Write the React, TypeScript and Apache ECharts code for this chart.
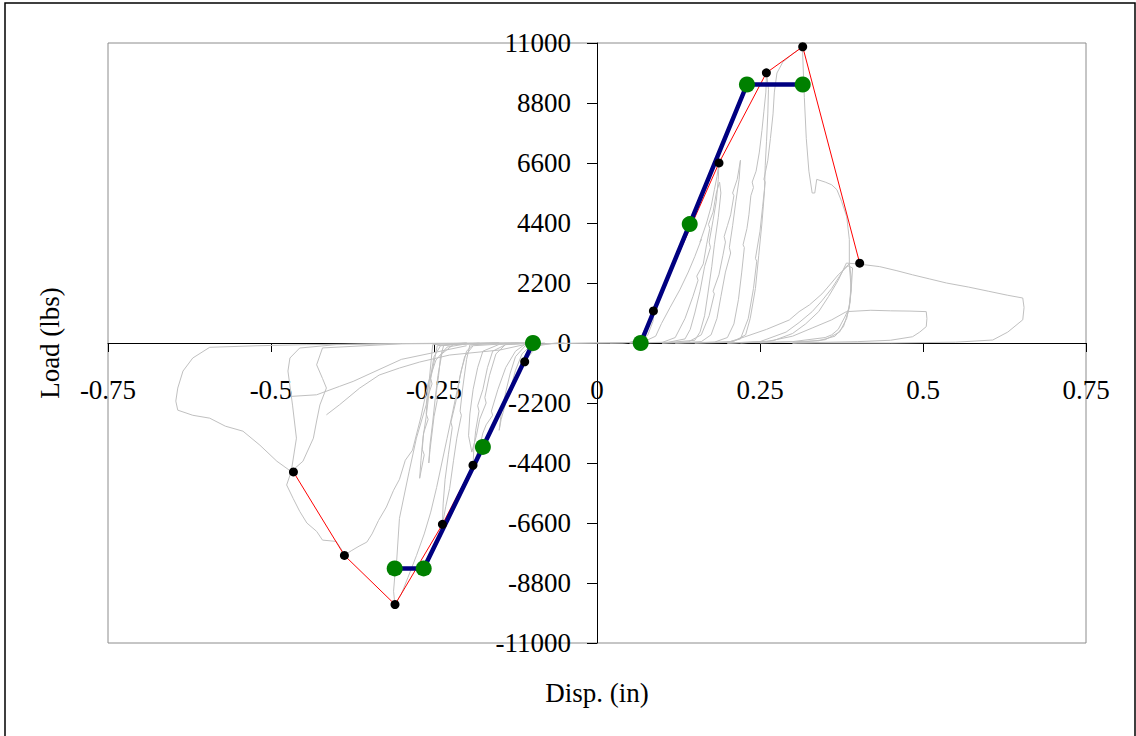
import React, { useEffect, useRef } from "react";
import * as echarts from "echarts";

// ---------- data ----------
const xMin = -0.75;
const xMax = 0.75;
const xInterval = 0.25;
const yMin = -11000;
const yMax = 11000;
const yInterval = 2200;

const xTitle = "Disp. (in)";
const yTitle = "Load (lbs)";

// envelope (peak) points
const envelopePosX = [0.0865, 0.1871, 0.2598, 0.3155, 0.4029];
const envelopePosY = [1176, 6602, 9908, 10863, 2928];
const envelopeNegX = [-0.1109, -0.1902, -0.2371, -0.3098, -0.3874, -0.4656];
const envelopeNegY = [-687, -4482, -6650, -9589, -7788, -4728];

// bilinear (EEEP) curve points
const bilinearPosX = [0.067, 0.1422, 0.23, 0.3155];
const bilinearPosY = [0, 4360, 9478, 9478];
const bilinearNegX = [-0.0982, -0.175, -0.2658, -0.3103];
const bilinearNegY = [0, -3810, -8266, -8266];

// hysteresis loops (disp, load)
const loopP1 = [[0, 0], [0.05, 20], [0.066, 150], [0.075, 600], [0.087, 1180], [0.086, 800], [0.078, 300], [0.068, 60], [0.04, 0], [0, 0]];
const loopP2 = [[0.02, 0], [0.07, 30], [0.09, 250], [0.099, 720], [0.112, 1300], [0.127, 1950], [0.14, 2600], [0.15, 3170], [0.16, 3800], [0.158, 3700], [0.168, 4400], [0.175, 5000], [0.18, 5620], [0.184, 6100], [0.187, 6600], [0.186, 6000], [0.183, 5200], [0.178, 4500], [0.172, 3700], [0.174, 3500], [0.165, 2800], [0.158, 1900], [0.15, 1100], [0.143, 500], [0.135, 150], [0.11, 30], [0.05, 0]];
const loopP3 = [[0.05, 0], [0.1, 20], [0.12, 200], [0.135, 900], [0.147, 1700], [0.155, 2300], [0.153, 2450], [0.163, 2900], [0.168, 3600], [0.173, 4200], [0.171, 4350], [0.178, 4800], [0.183, 5500], [0.188, 5900], [0.19, 5500], [0.186, 4600], [0.18, 3600], [0.176, 2800], [0.17, 1800], [0.165, 1000], [0.158, 400], [0.15, 100], [0.1, 0]];
const loopP4 = [[0.1, 0], [0.14, 40], [0.16, 300], [0.172, 1000], [0.18, 1800], [0.178, 1900], [0.187, 2500], [0.193, 3200], [0.197, 3700], [0.195, 3900], [0.2, 4300], [0.205, 4700], [0.21, 5400], [0.208, 5500], [0.215, 6000], [0.22, 6700], [0.218, 6000], [0.213, 5200], [0.208, 4300], [0.203, 3500], [0.205, 3300], [0.197, 2600], [0.19, 1700], [0.184, 900], [0.175, 300], [0.16, 50], [0.12, 0]];
const loopP5 = [[0.12, 0], [0.18, 30], [0.2, 200], [0.21, 700], [0.217, 1600], [0.222, 2600], [0.226, 3500], [0.224, 3600], [0.23, 4200], [0.233, 4700], [0.236, 5400], [0.24, 5700], [0.238, 5900], [0.244, 6300], [0.249, 7000], [0.253, 7800], [0.256, 8500], [0.259, 9200], [0.26, 9900], [0.263, 9300], [0.262, 8400], [0.26, 7400], [0.258, 6500], [0.257, 5600], [0.253, 4400], [0.248, 3200], [0.243, 2000], [0.235, 900], [0.228, 300], [0.21, 60], [0.15, 0]];
const loopP6 = [[0.15, 0], [0.2, 20], [0.22, 150], [0.232, 900], [0.24, 2000], [0.245, 3000], [0.243, 3100], [0.25, 4100], [0.254, 5000], [0.258, 5900], [0.256, 6000], [0.262, 6700], [0.266, 7500], [0.27, 8400], [0.272, 9200], [0.276, 9900], [0.285, 10300], [0.3, 10600], [0.315, 10860], [0.318, 9000], [0.321, 7500], [0.325, 6300], [0.33, 5500], [0.334, 5500], [0.337, 6000], [0.35, 5900], [0.36, 5800], [0.368, 5620], [0.375, 5200], [0.383, 4630], [0.387, 3800], [0.387, 2870], [0.39, 1950], [0.387, 1300], [0.38, 950], [0.37, 500], [0.36, 300], [0.35, 200], [0.3, 50], [0.2, 0]];
const loopP7 = [[0.1, 0], [0.2, 20], [0.226, 220], [0.26, 500], [0.295, 845], [0.31, 1150], [0.326, 1400], [0.345, 1800], [0.357, 2130], [0.37, 2500], [0.385, 2830], [0.392, 2750], [0.39, 2000], [0.386, 1200], [0.378, 600], [0.365, 250], [0.34, 80], [0.25, 0]];
const loopP8 = [[0.2, 0], [0.25, 50], [0.29, 400], [0.31, 750], [0.33, 1150], [0.345, 1550], [0.36, 2000], [0.372, 2450], [0.38, 2750], [0.387, 2900], [0.39, 2400], [0.388, 1500], [0.383, 900], [0.372, 400], [0.35, 120], [0.3, 0]];
const loopP9 = [[0.22, 0], [0.27, 80], [0.3, 350], [0.32, 700], [0.34, 1150], [0.355, 1700], [0.37, 2300], [0.3825, 2930], [0.4, 2900], [0.4336, 2800], [0.46, 2650], [0.484, 2500], [0.51, 2350], [0.536, 2200], [0.57, 2050], [0.6, 1900], [0.63, 1750], [0.653, 1650], [0.655, 1300], [0.653, 850], [0.63, 400], [0.607, 110], [0.55, 30], [0.45, 0], [0.3, 0]];
const loopP10 = [[0.2, 0], [0.26, 50], [0.3, 250], [0.33, 550], [0.36, 850], [0.3825, 1150], [0.42, 1200], [0.45, 1180], [0.48, 1170], [0.505, 1150], [0.506, 900], [0.505, 600], [0.495, 400], [0.484, 230], [0.45, 100], [0.4, 50], [0.3, 0]];

const loopN1 = [[0, 0], [-0.07, -20], [-0.09, -100], [-0.1, -350], [-0.111, -690], [-0.108, -400], [-0.1, -150], [-0.08, -30], [0, 0]];
const loopN2 = [[-0.05, 0], [-0.1, -50], [-0.115, -400], [-0.125, -1000], [-0.132, -1600], [-0.13, -1700], [-0.14, -2200], [-0.147, -2800], [-0.15, -3200], [-0.147, -2600], [-0.14, -1800], [-0.133, -1100], [-0.125, -500], [-0.11, -100], [-0.06, 0]];
const loopN3 = [[-0.08, 0], [-0.11, -40], [-0.125, -300], [-0.14, -900], [-0.152, -1700], [-0.162, -2500], [-0.16, -2650], [-0.17, -3000], [-0.175, -3300], [-0.18, -3800], [-0.186, -4200], [-0.19, -4480], [-0.189, -3900], [-0.186, -3200], [-0.181, -2500], [-0.183, -2300], [-0.175, -1700], [-0.168, -900], [-0.16, -300], [-0.14, -60], [-0.09, 0]];
const loopN4 = [[-0.1, 0], [-0.14, -50], [-0.155, -400], [-0.165, -1200], [-0.172, -2000], [-0.17, -2200], [-0.18, -2800], [-0.185, -3400], [-0.192, -4000], [-0.197, -3400], [-0.195, -2600], [-0.19, -1700], [-0.183, -900], [-0.175, -300], [-0.15, -50], [-0.1, 0]];
const loopN5 = [[-0.1, 0], [-0.17, -30], [-0.195, -70], [-0.2, -600], [-0.206, -1650], [-0.21, -2500], [-0.208, -2650], [-0.215, -3490], [-0.22, -4300], [-0.226, -5330], [-0.232, -6000], [-0.237, -6650], [-0.236, -5900], [-0.233, -5000], [-0.228, -4100], [-0.222, -3100], [-0.224, -2900], [-0.216, -2100], [-0.21, -1200], [-0.203, -500], [-0.19, -100], [-0.12, 0]];
const loopN6 = [[-0.15, 0], [-0.22, -40], [-0.245, -100], [-0.25, -700], [-0.255, -1300], [-0.253, -1500], [-0.26, -2000], [-0.262, -2600], [-0.259, -2800], [-0.266, -3300], [-0.268, -3900], [-0.265, -4100], [-0.272, -4960], [-0.27, -4300], [-0.267, -3500], [-0.262, -2700], [-0.258, -1900], [-0.255, -1200], [-0.25, -500], [-0.24, -100], [-0.18, 0]];
const loopN7 = [[-0.2, 0], [-0.235, -80], [-0.24, -500], [-0.243, -1200], [-0.247, -1900], [-0.245, -2100], [-0.25, -2700], [-0.253, -3300], [-0.256, -3900], [-0.258, -4400], [-0.256, -3700], [-0.252, -2900], [-0.248, -2000], [-0.244, -1200], [-0.238, -400], [-0.22, -50], [-0.15, 0]];
const loopN8 = [[-0.12, 0], [-0.19, -50], [-0.2, -300], [-0.208, -1000], [-0.215, -1800], [-0.222, -2600], [-0.23, -3500], [-0.238, -4400], [-0.246, -5300], [-0.255, -6200], [-0.265, -7000], [-0.277, -7800], [-0.29, -8600], [-0.3, -9200], [-0.31, -9590], [-0.312, -9100], [-0.31, -8500], [-0.308, -8266], [-0.303, -6430], [-0.295, -5500], [-0.288, -4700], [-0.277, -3490], [-0.262, -2267], [-0.257, -1300], [-0.254, -551], [-0.252, -62], [-0.2, 0]];
const loopN9 = [[-0.15, 0], [-0.2, -30], [-0.23, -150], [-0.247, -625], [-0.259, -1470], [-0.27, -2708], [-0.283, -3931], [-0.294, -4299], [-0.303, -5000], [-0.312, -5400], [-0.323, -6014], [-0.335, -6503], [-0.345, -7000], [-0.353, -7300], [-0.365, -7450], [-0.376, -7605], [-0.388, -7788], [-0.39, -7642], [-0.4, -7275], [-0.421, -7227], [-0.43, -6907], [-0.445, -6600], [-0.456, -6172], [-0.466, -5700], [-0.476, -5206], [-0.469, -4714], [-0.491, -4335], [-0.517, -3747], [-0.543, -3233], [-0.57, -3050], [-0.594, -2756], [-0.62, -2650], [-0.643, -2462], [-0.646, -2131], [-0.643, -1653], [-0.635, -1029], [-0.62, -551], [-0.594, -158], [-0.52, -100], [-0.446, -62], [-0.3, -20], [-0.1, 0]];
const loopN10 = [[-0.1, 0], [-0.3, -30], [-0.421, -180], [-0.43, -800], [-0.421, -1300], [-0.415, -1650], [-0.425, -2270], [-0.43, -2860], [-0.435, -3490], [-0.451, -4335], [-0.469, -4714], [-0.461, -3490], [-0.467, -2278], [-0.474, -1029], [-0.471, -551], [-0.456, -184], [-0.4, -60], [-0.3, -20], [-0.1, 0]];
const loopN11 = [[-0.1, 0], [-0.149, -257], [-0.226, -441], [-0.272, -698], [-0.303, -918], [-0.334, -1175], [-0.364, -1653], [-0.395, -2267], [-0.415, -2634]];
const loopN12 = [[-0.2, -100], [-0.3, -600], [-0.374, -1408], [-0.395, -1591], [-0.43, -1899], [-0.469, -1958]];

const hysteresisLoops = [loopP1, loopP2, loopP3, loopP4, loopP5, loopP6, loopP7, loopP8, loopP9, loopP10, loopN1, loopN2, loopN3, loopN4, loopN5, loopN6, loopN7, loopN8, loopN9, loopN10, loopN11, loopN12];

const zip = (xs: number[], ys: number[]) => xs.map((x, i) => [x, ys[i]]);

const FONT = '"Liberation Serif", "Times New Roman", serif';

export default function App() {
  const ref = useRef<HTMLDivElement>(null);
  useEffect(() => {
    if (!ref.current) return;
    const chart = echarts.init(ref.current, null, { renderer: "svg" });
    const graySeries = hysteresisLoops.map((loop) => ({
      type: "line",
      data: loop,
      symbol: "none",
      silent: true,
      lineStyle: { color: "#c0c0c0", width: 1 },
      z: 1,
    }));
    chart.setOption({
      animation: false,
      backgroundColor: "#ffffff",
      grid: {
        left: 108,
        top: 43,
        width: 978,
        height: 600,
        show: true,
        borderColor: "#8c8c8c",
        borderWidth: 1,
        backgroundColor: "transparent",
      },
      xAxis: {
        type: "value",
        position: "bottom",
        offset: -300,
        min: xMin,
        max: xMax,
        interval: xInterval,
        axisLine: { show: true, onZero: false, lineStyle: { color: "#000", width: 1 } },
        axisTick: { show: true, length: 9, lineStyle: { color: "#000" } },
        axisLabel: { margin: 33, fontSize: 27, fontFamily: FONT, color: "#000" },
        splitLine: { show: false },
      },
      yAxis: {
        type: "value",
        position: "left",
        offset: -489,
        min: yMin,
        max: yMax,
        interval: yInterval,
        axisLine: { show: true, onZero: false, lineStyle: { color: "#000", width: 1 } },
        axisTick: { show: true, length: 10, lineStyle: { color: "#000" } },
        axisLabel: {
          margin: 26,
          fontSize: 27,
          fontFamily: FONT,
          color: "#000",
          formatter: (v: number) => String(v),
        },
        splitLine: { show: false },
      },
      graphic: [
        {
          type: "rect",
          shape: { x: 5, y: 3, width: 1130, height: 745 },
          style: { fill: "none", stroke: "#000", lineWidth: 1.5 },
          silent: true,
        },
        {
          type: "text",
          x: 50,
          y: 343,
          rotation: Math.PI / 2,
          style: {
            text: yTitle,
            font: `27px ${FONT}`,
            fill: "#000",
            textAlign: "center",
            textVerticalAlign: "middle",
          },
        },
        {
          type: "text",
          x: 597,
          y: 693,
          style: {
            text: xTitle,
            font: `27px ${FONT}`,
            fill: "#000",
            textAlign: "center",
            textVerticalAlign: "middle",
          },
        },
      ],
      series: [
        ...graySeries,
        {
          type: "line",
          data: zip(envelopePosX, envelopePosY),
          symbol: "none",
          lineStyle: { color: "#ff0000", width: 1 },
          z: 2,
        },
        {
          type: "line",
          data: zip(envelopeNegX, envelopeNegY),
          symbol: "none",
          lineStyle: { color: "#ff0000", width: 1 },
          z: 2,
        },
        {
          type: "line",
          data: zip(bilinearPosX, bilinearPosY),
          symbol: "none",
          lineStyle: { color: "#000080", width: 4.5 },
          z: 3,
        },
        {
          type: "line",
          data: zip(bilinearNegX, bilinearNegY),
          symbol: "none",
          lineStyle: { color: "#000080", width: 4.5 },
          z: 3,
        },
        {
          type: "scatter",
          data: [...zip(envelopePosX, envelopePosY), ...zip(envelopeNegX, envelopeNegY)],
          symbol: "circle",
          symbolSize: 9,
          itemStyle: { color: "#000", opacity: 1 },
          z: 4,
        },
        {
          type: "scatter",
          data: [...zip(bilinearPosX, bilinearPosY), ...zip(bilinearNegX, bilinearNegY)],
          symbol: "circle",
          symbolSize: 16,
          itemStyle: { color: "#008000", opacity: 1 },
          z: 5,
        },
      ],
    });
    return () => chart.dispose();
  }, []);
  return (
    <div
      ref={ref}
      style={{ position: "fixed", left: 0, top: 0, width: 1136, height: 736, background: "#fff" }}
    />
  );
}
